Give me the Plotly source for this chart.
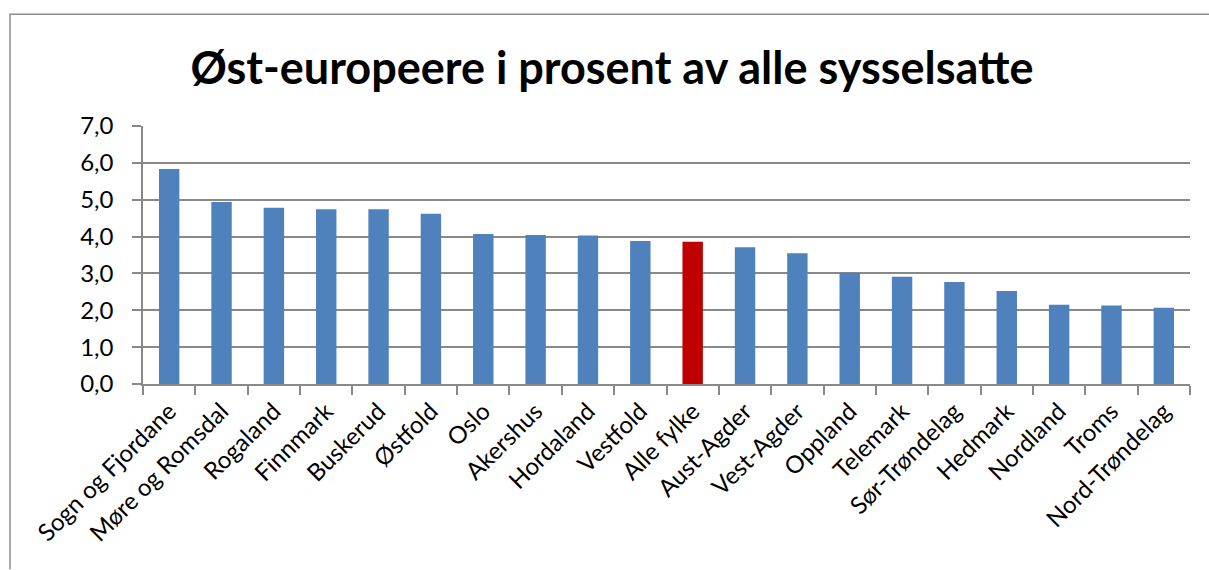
import plotly.graph_objects as go

# Data
fylker = ["Sogn og Fjordane", "Møre og Romsdal", "Rogaland", "Finnmark", "Buskerud",
          "Østfold", "Oslo", "Akershus", "Hordaland", "Vestfold", "Alle fylke",
          "Aust-Agder", "Vest-Agder", "Oppland", "Telemark", "Sør-Trøndelag",
          "Hedmark", "Nordland", "Troms", "Nord-Trøndelag"]
andel = [5.83, 4.94, 4.78, 4.74, 4.74, 4.62, 4.07, 4.04, 4.03, 3.88, 3.86,
         3.71, 3.55, 3.02, 2.91, 2.77, 2.52, 2.15, 2.13, 2.07]
y_ticks = [0, 1, 2, 3, 4, 5, 6, 7]

blue = "#4F81BD"
red = "#C00000"
grid = "#898989"
font_family = "Lato, 'Open Sans', sans-serif"

colors = [red if f == "Alle fylke" else blue for f in fylker]

fig = go.Figure()
fig.add_trace(go.Bar(
    x=fylker,
    y=andel,
    marker=dict(color=colors, line=dict(width=0)),
    hovertemplate="%{x}: %{y:.1f}<extra></extra>",
))

# plot area in pixels: x 143-1190, y 126-384.5
W, H = 1209, 570
left, right, top, bottom = 143, 1190, 126, 384.5
pw = right - left
ph = bottom - top

def px_x(v):
    return (v - left) / pw

def px_y(v):
    return (bottom - v) / ph

# chart frame: only the left and top edges fall inside the window
frame_x0, frame_x1 = px_x(10), px_x(1209)
frame_y0, frame_y1 = px_y(570), px_y(14)
frame_path = f"M {frame_x0},{frame_y0} L {frame_x0},{frame_y1} L {frame_x1},{frame_y1}"

fig.update_layout(
    width=W, height=H,
    margin=dict(l=left, r=W - right, t=top, b=H - bottom, pad=0),
    paper_bgcolor="white",
    plot_bgcolor="white",
    separators=", ",
    showlegend=False,
    bargap=0.61,
    font=dict(family=font_family, color="black", size=24),
    title=dict(
        text="<b>Øst-europeere i prosent av alle sysselsatte</b>",
        x=612 / W, xanchor="center",
        y=1 - 68 / H, yanchor="middle",
        font=dict(size=45, family=font_family, color="black"),
    ),
    xaxis=dict(
        type="category",
        tickangle=-45,
        tickson="boundaries",
        ticks="outside", ticklen=9, tickcolor=grid, tickwidth=1.5,
        showline=True, linecolor=grid, linewidth=1.5,
        showgrid=False,
        tickfont=dict(size=24),
        ticklabelstandoff=2,
    ),
    yaxis=dict(
        range=[0, 7],
        tickvals=y_ticks,
        tickformat=".1f",
        ticks="outside", ticklen=9, tickcolor=grid, tickwidth=1.5,
        showline=True, linecolor=grid, linewidth=1.5,
        showgrid=True, gridcolor=grid, gridwidth=1.5,
        zeroline=False,
        tickfont=dict(size=24),
        ticklabelstandoff=14,
    ),
    shapes=[dict(
        type="path", xref="paper", yref="paper",
        path=frame_path,
        line=dict(color="#8c8c8c", width=1.5),
        layer="below",
    )],
)

# drop the page margin so the figure sits at the window's top-left corner
fig.write_html(
    "out.html",
    config={"displayModeBar": False},
    post_script=(
        "document.documentElement.style.overflow='hidden';"
        "document.body.style.margin='0';"
        "document.body.style.overflow='hidden';"
    ),
)
